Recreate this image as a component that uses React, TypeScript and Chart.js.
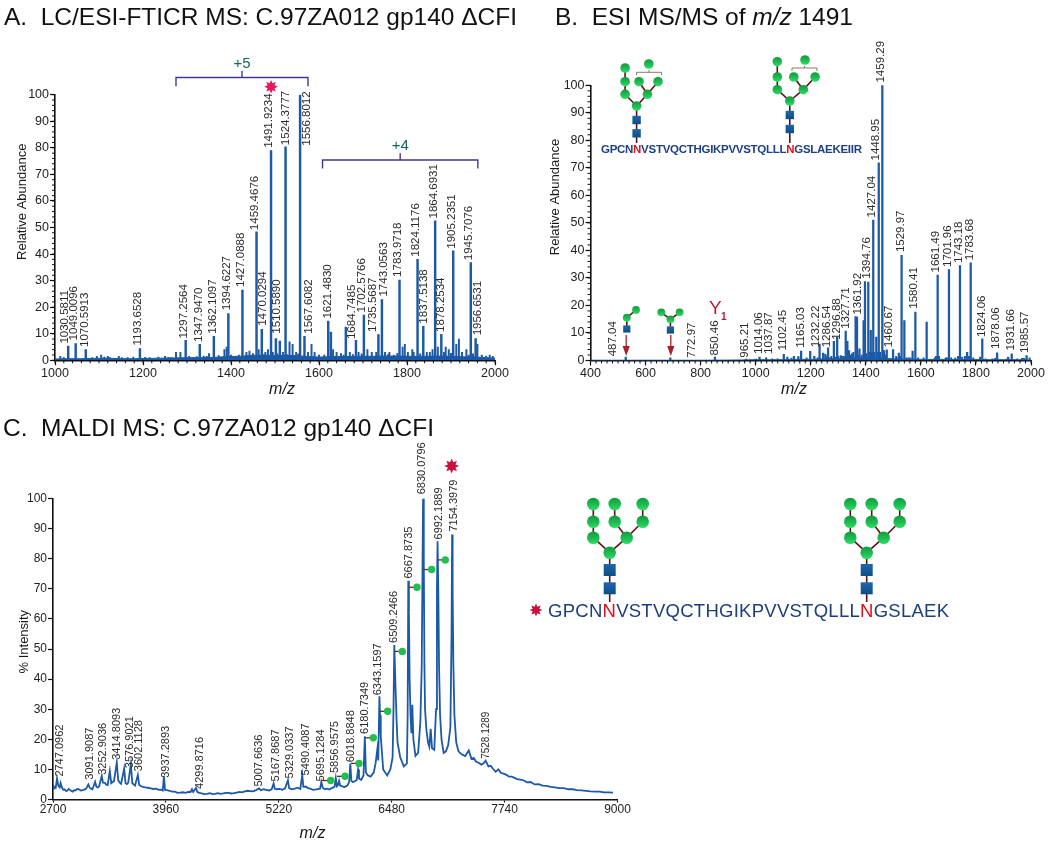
import React, { useEffect, useRef } from "react";
import { Chart, registerables } from "chart.js";

Chart.register(...registerables);

const BLUE = "#1c59a6";
const FONT = "'Liberation Sans', Arial, sans-serif";

// ---------- Panel A ----------
const aPeakMz = [1030, 1047, 1070, 1193, 1297, 1329, 1361, 1394, 1426, 1458, 1470, 1491, 1502, 1511, 1524, 1557, 1567, 1621, 1627, 1661, 1684, 1702, 1735, 1743, 1783, 1824, 1837, 1864, 1878, 1905, 1945, 1956];
const aPeakInt = [5.4, 6.3, 4, 4.4, 7.5, 6, 9, 17.6, 26.4, 48.4, 11.7, 79, 8.2, 7.2, 80.4, 100, 9, 14.8, 10.6, 12.5, 7.5, 17, 9.7, 22.9, 30.2, 38, 12.8, 52.5, 9.8, 41.2, 36.8, 8.2];
const aNoiseMz = [1012, 1020, 1085, 1095, 1105, 1112, 1120, 1125, 1145, 1152, 1165, 1178, 1205, 1215, 1235, 1250, 1258, 1265, 1275, 1285, 1305, 1315, 1322, 1338, 1345, 1350, 1372, 1385, 1390, 1400, 1410, 1418, 1435, 1442, 1450, 1463, 1475, 1478, 1484, 1495, 1505, 1518, 1528, 1533, 1540, 1548, 1553, 1575, 1583, 1590, 1600, 1612, 1632, 1640, 1650, 1656, 1670, 1677, 1690, 1697, 1710, 1720, 1730, 1750, 1757, 1760, 1770, 1778, 1790, 1795, 1802, 1812, 1815, 1830, 1845, 1852, 1858, 1870, 1884, 1888, 1895, 1900, 1912, 1918, 1925, 1935, 1940, 1950, 1960, 1970, 1980, 1988, 1995];
const aNoiseInt = [1.5, 1, 1, 1.5, 2, 1.2, 1.5, 1, 1.5, 1, 1, 1.2, 1.1, 1, 1.2, 1.5, 1.1, 1, 3, 3, 1.5, 1, 1.4, 1.6, 1.5, 2.5, 1.8, 4, 5, 2, 1.5, 2, 3, 3.5, 2.5, 4, 2.2, 3, 4, 3, 2.5, 3, 2.2, 7, 6, 3, 2.4, 3, 6, 3, 2, 2, 4, 3, 2.5, 2, 3, 2.2, 3, 2.4, 4, 3, 3, 3, 2.2, 3, 2, 2.6, 5, 6, 3, 4, 3, 2.4, 3, 3, 4, 5, 3, 5, 4, 2.6, 6, 8, 3, 4, 2, 2.4, 6, 2, 1.6, 2, 1.5];
const aFloorMz = [1000, 1030, 1060, 1090, 1120, 1150, 1180, 1210, 1240, 1270, 1300, 1330, 1360, 1390, 1420, 1450, 1480, 1510, 1540, 1570, 1600, 1630, 1660, 1690, 1720, 1750, 1780, 1810, 1840, 1870, 1900, 1930, 1960, 2000];
const aFloorInt = [0.5, 0.6, 0.6, 0.7, 0.8, 0.6, 0.6, 0.7, 0.8, 0.9, 1, 1, 1.1, 1.4, 1.5, 1.9, 1.9, 1.8, 1.8, 1.5, 1.2, 1.4, 1.4, 1.5, 1.5, 1.6, 1.6, 1.5, 1.5, 1.6, 1.5, 1.3, 1.2, 0.8];
const aLabelText = ["1030.5811", "1049.0096", "1070.5913", "1193.6528", "1297.2564", "1347.9470", "1362.1097", "1394.6227", "1427.0888", "1459.4676", "1470.0294", "1491.9234", "1510.5890", "1524.3777", "1556.8012", "1567.6082", "1621.4830", "1684.7485", "1702.5766", "1735.5687", "1743.0563", "1783.9718", "1824.1176", "1837.5138", "1864.6931", "1878.2534", "1905.2351", "1945.7076", "1956.6531"];
const aLabelMz = [1023, 1043, 1068, 1189, 1292, 1328, 1358, 1390, 1422, 1455, 1473, 1486, 1505, 1524, 1572, 1576, 1620, 1674, 1697, 1723, 1748, 1780, 1820, 1839, 1862, 1877, 1901, 1941, 1961];
const aLabelVal = [6.3, 7.5, 5, 5.6, 8.2, 6.9, 10, 18.8, 27.6, 49, 13, 80, 10, 81, 80.8, 10, 15.7, 8, 18, 10.7, 24, 31.4, 39, 13.8, 53.4, 10.7, 42, 37.7, 9.4];

// ---------- Panel B ----------
const bPeakMz = [528, 690, 852, 1014, 1038, 1102, 1115, 1139, 1155, 1165, 1198, 1213, 1232, 1245, 1253, 1263, 1284, 1296, 1309, 1327, 1333, 1339, 1363, 1368, 1377, 1392, 1397, 1409, 1418, 1427, 1438, 1447, 1460, 1466, 1476, 1499, 1520, 1530, 1540, 1570, 1580, 1621, 1661, 1702, 1742, 1768, 1781, 1823, 1877, 1917, 1930, 1968, 1984];
const bPeakInt = [1.2, 1, 1.2, 1.2, 1, 2.2, 1.2, 1.5, 1.4, 3.4, 3.3, 1.5, 6, 2.7, 2.2, 4.6, 7, 8.5, 1.8, 10.7, 7, 3.6, 16, 15.8, 4.2, 14.5, 28.7, 28.5, 11, 51, 8.5, 71.8, 100, 3.6, 3.9, 4, 2.7, 38.2, 14.5, 3.4, 17.6, 14, 31, 33, 34.5, 3, 35.5, 7.9, 2.8, 1.2, 2.4, 0.8, 1.8];
const bNoiseMz = [965, 1000, 1060, 1080, 1130, 1185, 1225, 1255, 1270, 1275, 1290, 1300, 1315, 1320, 1345, 1350, 1355, 1372, 1385, 1402, 1412, 1422, 1430, 1442, 1452, 1470, 1510, 1515, 1525, 1548, 1555, 1562, 1590, 1610, 1650, 1655, 1666, 1690, 1695, 1710, 1725, 1735, 1750, 1760, 1775, 1790, 1815, 1835, 1860, 1870, 1910, 1950, 1975, 1995];
const bNoiseInt = [0.5, 0.5, 0.6, 0.6, 0.9, 1, 1, 1.5, 1, 1.5, 1.2, 1.5, 1.5, 1.5, 2, 2.5, 3, 2, 2, 2.5, 3, 3, 3, 3, 3, 2, 1.5, 1, 1.5, 1, 1, 1, 1, 1, 1, 1.5, 1.5, 1, 1, 1, 1, 1.5, 1.2, 1.5, 1.5, 1, 1.2, 0.6, 0.6, 0.8, 0.5, 0.6, 0.8, 1];
const bFloorMz = [400, 500, 600, 700, 800, 900, 950, 1000, 1050, 1100, 1150, 1200, 1250, 1300, 1350, 1400, 1450, 1500, 1550, 1600, 1650, 1700, 1750, 1800, 1850, 1900, 1950, 2000];
const bFloorInt = [0.1, 0.1, 0.1, 0.1, 0.1, 0.15, 0.2, 0.3, 0.3, 0.3, 0.4, 0.4, 0.6, 0.7, 0.9, 0.9, 0.8, 0.6, 0.5, 0.4, 0.4, 0.4, 0.4, 0.4, 0.3, 0.3, 0.3, 0.2];
const bLabelText = ["487.04", "772.97", "850.46", "965.21", "1014.06", "1037.87", "1102.45", "1165.03", "1232.22", "1286.54", "1296.88", "1327.71", "1361.92", "1394.76", "1427.04", "1448.95", "1459.29", "1460.67", "1529.97", "1580.41", "1661.49", "1701.96", "1743.18", "1783.68", "1824.06", "1878.06", "1931.66", "1985.57"];
const bLabelMz = [482, 768, 852, 959, 1012, 1047, 1097, 1164, 1220, 1257, 1293, 1327, 1370, 1403, 1422, 1435, 1454, 1483, 1526, 1575, 1656, 1697, 1739, 1778, 1820, 1874, 1925, 1978];
const bLabelVal = [1.5, 1, 1.8, 1, 2.4, 2.4, 3.6, 4.6, 4.8, 4.8, 7.5, 11.5, 16.7, 29.7, 52, 72.7, 101, 4.8, 39.4, 18.8, 32, 34, 35.4, 36.4, 8.5, 4.2, 3.6, 2.7];

// ---------- Panel C ----------
const cMz = [2700, 2708, 2715, 2730, 2745, 2760, 2775, 2785, 2800, 2815, 2830, 2845, 2860, 2875, 2890, 2905, 2920, 2935, 2950, 2970, 2990, 3010, 3030, 3050, 3070, 3095, 3110, 3125, 3140, 3170, 3185, 3200, 3215, 3244, 3258, 3280, 3295, 3310, 3334, 3350, 3365, 3380, 3412, 3428, 3445, 3460, 3494, 3510, 3525, 3540, 3569, 3585, 3600, 3615, 3647, 3662, 3680, 3700, 3730, 3760, 3790, 3820, 3850, 3880, 3905, 3925, 3938, 3950, 3975, 4000, 4030, 4060, 4090, 4120, 4150, 4180, 4210, 4235, 4251, 4265, 4296, 4310, 4335, 4360, 4390, 4420, 4450, 4480, 4510, 4540, 4570, 4600, 4630, 4660, 4690, 4720, 4750, 4780, 4810, 4840, 4870, 4900, 4930, 4960, 4998, 5020, 5050, 5080, 5110, 5140, 5162, 5175, 5200, 5230, 5260, 5290, 5322, 5335, 5365, 5400, 5430, 5460, 5482, 5494, 5520, 5545, 5570, 5605, 5640, 5680, 5695, 5710, 5735, 5760, 5785, 5810, 5842, 5856, 5868, 5880, 5893, 5905, 5930, 5950, 5985, 6005, 6018, 6030, 6045, 6060, 6090, 6105, 6115, 6140, 6165, 6180, 6192, 6215, 6245, 6280, 6300, 6320, 6330, 6343, 6350, 6358, 6385, 6430, 6465, 6490, 6500, 6509, 6522, 6535, 6545, 6575, 6615, 6650, 6658, 6665, 6672, 6680, 6690, 6700, 6710, 6722, 6745, 6775, 6800, 6815, 6830, 6838, 6845, 6852, 6868, 6885, 6900, 6915, 6930, 6955, 6975, 6985, 6992, 7000, 7008, 7020, 7036, 7060, 7085, 7110, 7135, 7148, 7154, 7160, 7168, 7180, 7200, 7225, 7260, 7300, 7340, 7370, 7395, 7420, 7450, 7480, 7505, 7528, 7560, 7585, 7610, 7640, 7670, 7700, 7730, 7760, 7790, 7820, 7850, 7880, 7915, 7950, 7990, 8030, 8075, 8120, 8165, 8210, 8255, 8300, 8350, 8400, 8450, 8500, 8550, 8600, 8650, 8700, 8750, 8800, 8850, 8900, 8950, 9000];
const cInt = [3.5, 4.4, 4, 3.8, 7, 4.5, 4, 5.5, 4, 3.2, 3.4, 2.8, 2.9, 3.5, 3.2, 2.8, 2.6, 3.1, 3, 3.5, 3.4, 3, 3.1, 3.3, 3.6, 5, 3.9, 3.6, 3.4, 5.9, 4.2, 4, 4.4, 7.8, 5.6, 5.5, 4.9, 4.8, 9.5, 5.4, 5.8, 6, 12.3, 6.4, 5.6, 5.2, 10.3, 5.4, 5.1, 5.6, 11.8, 5.4, 5, 4.6, 8.1, 4.8, 4.5, 4.2, 4, 3.9, 3.7, 3.5, 3.6, 3.2, 3.3, 3, 7.8, 3.2, 3.1, 2.9, 2.6, 2.6, 2.2, 2.3, 2.4, 2.2, 2.5, 2.5, 3.4, 2.5, 3.9, 2.5, 2.2, 2, 1.8, 1.9, 2.1, 1.8, 1.9, 2.1, 1.9, 2, 2.2, 2.2, 2, 2.1, 2.3, 2.5, 2.4, 2.7, 2.9, 2.8, 2.7, 3, 3.7, 3.1, 3.4, 3.2, 3, 3.4, 5.3, 3.6, 3.4, 3.5, 3.2, 3.7, 6.4, 3.8, 3.4, 3.6, 3.9, 3.5, 8.1, 4.2, 4.3, 3.8, 3.6, 3.2, 3.4, 3.6, 5.8, 3.9, 3.4, 3.6, 3.3, 3.8, 4.2, 7.1, 4.4, 4.8, 6.2, 4.6, 4.4, 4.1, 4.6, 5.8, 11.9, 6.2, 5.8, 5.9, 6.5, 10, 7, 6.5, 8, 21, 9, 8, 7.6, 9, 12, 16.8, 13, 34.3, 28, 21, 10, 8, 10, 14, 30, 51.3, 38, 26, 19, 14, 11, 12, 28, 72.7, 62, 40, 28, 22, 31.5, 20, 14.5, 15.5, 26, 44, 100, 80, 45, 30, 23, 19, 17.5, 23.5, 17, 16.5, 30, 70, 85.8, 70, 45, 28, 20, 15.5, 16, 18, 24, 55, 88, 70, 45, 28, 19, 16, 15, 14.4, 16.3, 13.5, 13.8, 12.6, 12.2, 11.6, 12, 12.9, 11, 11.2, 10.2, 9.2, 10, 8.8, 8.6, 8.2, 7.6, 7.6, 7.2, 6.8, 6.6, 6.4, 5.7, 5.8, 5, 5.1, 4.6, 4.5, 4.2, 4, 3.8, 3.8, 3.4, 3.4, 3.1, 3, 2.9, 2.7, 2.6, 2.6, 2.4, 2.4, 2.3];
const cDotMz = [5799, 5959, 6115, 6275, 6435, 6598, 6762, 6926, 7078];
const cDotInt = [6.3, 7.7, 12, 20.5, 29.3, 49.2, 70.5, 76.4, 79.6];
const cLabelText = ["2747.0962", "3091.9087", "3252.9036", "3414.8093", "3576.9021", "3602.1128", "3937.2893", "4299.8716", "5007.6636", "5167.8687", "5329.0337", "5490.4087", "5695.1284", "5856.9575", "6018.8848", "6180.7349", "6343.1597", "6509.2466", "6667.8735", "6830.0796", "6992.1889", "7154.3979"];
const cLabelMz = [2773, 3116, 3257, 3417, 3554, 3655, 3965, 4340, 5002, 5185, 5345, 5518, 5688, 5847, 6021, 6180, 6327, 6500, 6670, 6816, 7012, 7172];
const cLabelVal = [7.6, 6.6, 8.2, 13.2, 10.4, 9.4, 7.2, 3.5, 4.3, 6, 7, 8, 6, 8.8, 12.4, 21.8, 34.6, 52, 73.4, 101.4, 86.4, 89];
const cSmallLabelText = ["7528.1289"];
const cSmallLabelMz = [7538];
const cSmallLabelVal = [13.5];

// ---------- helpers ----------
const pairs = (xs: number[], ys: number[]) => xs.map((x, i) => ({ x, y: ys[i] }));

function starPath(ctx: CanvasRenderingContext2D, cx: number, cy: number, r: number) {
  ctx.beginPath();
  for (let i = 0; i < 16; i++) {
    const a = (i * Math.PI) / 8;
    const rr = i % 2 === 0 ? r : r * 0.55;
    ctx.lineTo(cx + rr * Math.sin(a), cy - rr * Math.cos(a));
  }
  ctx.closePath();
}

function overlay(cfg: any) {
  return {
    id: "overlay",
    afterDraw(chart: any) {
      const { ctx, scales } = chart;
      const x = scales.x, y = scales.y;
      ctx.save();
      if (cfg.minorX) {
        ctx.strokeStyle = "#111";
        ctx.lineWidth = 1;
        for (let v = x.min; v <= x.max; v += cfg.minorX) {
          const p = x.getPixelForValue(v);
          ctx.beginPath(); ctx.moveTo(p, y.bottom); ctx.lineTo(p, y.bottom + 3); ctx.stroke();
        }
      }
      if (cfg.minorY) {
        ctx.strokeStyle = "#111";
        ctx.lineWidth = 1;
        for (let v = 0; v <= 100; v += cfg.minorY) {
          const p = y.getPixelForValue(v);
          ctx.beginPath(); ctx.moveTo(x.left, p); ctx.lineTo(x.left - 3, p); ctx.stroke();
        }
      }
      const drawLabels = (txt: string[], mz: number[], val: number[], size: number) => {
        ctx.font = `${size}px ${FONT}`;
        ctx.fillStyle = "#2b2b2b";
        ctx.textAlign = "left";
        ctx.textBaseline = "middle";
        txt.forEach((t, i) => {
          ctx.save();
          ctx.translate(x.getPixelForValue(mz[i]), y.getPixelForValue(val[i]));
          ctx.rotate(-Math.PI / 2);
          ctx.fillText(t, 0, 0);
          ctx.restore();
        });
      };
      drawLabels(cfg.text, cfg.mz, cfg.val, cfg.size);
      if (cfg.text2) drawLabels(cfg.text2, cfg.mz2, cfg.val2, cfg.size2);
      (cfg.brackets || []).forEach((b: any) => {
        const x0 = x.getPixelForValue(b.from), x1 = x.getPixelForValue(b.to);
        const yy = y.getPixelForValue(b.y), yf = y.getPixelForValue(b.foot), ys = y.getPixelForValue(b.stem);
        const xm = (x0 + x1) / 2;
        ctx.strokeStyle = "#3f3a8f";
        ctx.lineWidth = 1.4;
        ctx.beginPath();
        ctx.moveTo(x0, yf); ctx.lineTo(x0, yy); ctx.lineTo(x1, yy); ctx.lineTo(x1, yf);
        ctx.moveTo(xm, yy); ctx.lineTo(xm, ys);
        ctx.stroke();
        ctx.fillStyle = "#11665a";
        ctx.font = `15px ${FONT}`;
        ctx.textAlign = "center";
        ctx.textBaseline = "middle";
        ctx.fillText(b.text, xm, ys - 7);
      });
      (cfg.stars || []).forEach((s: any) => {
        ctx.fillStyle = s.color;
        starPath(ctx, x.getPixelForValue(s.mz), y.getPixelForValue(s.val), s.r);
        ctx.fill();
      });
      ctx.fillStyle = "#1a1a1a";
      ctx.textAlign = "center";
      ctx.textBaseline = "middle";
      ctx.font = `${cfg.ySize}px ${FONT}`;
      ctx.save();
      ctx.translate(cfg.yTitleX, cfg.yTitleY);
      ctx.rotate(-Math.PI / 2);
      ctx.fillText(cfg.yTitle, 0, 0);
      ctx.restore();
      ctx.font = `italic 16px ${FONT}`;
      ctx.fillText("m/z", cfg.xTitleX, cfg.xTitleY);
      ctx.restore();
    },
  };
}

function dotStems() {
  return {
    id: "dotStems",
    beforeDatasetDraw(chart: any, args: any) {
      if (args.index !== 1) return;
      const { ctx } = chart;
      ctx.save();
      ctx.strokeStyle = "#6b2a1a";
      ctx.lineWidth = 1.3;
      chart.getDatasetMeta(1).data.forEach((p: any) => {
        ctx.beginPath(); ctx.moveTo(p.x, p.y); ctx.lineTo(p.x - 8, p.y); ctx.stroke();
      });
      ctx.restore();
    },
  };
}

function axes(opts: any) {
  return {
    x: {
      type: "linear",
      min: opts.xMin,
      max: opts.xMax,
      offset: false,
      afterFit: (s: any) => { s.height = opts.xH; },
      grid: { display: true, drawOnChartArea: false, drawTicks: true, tickLength: opts.xTickLen ?? 5, tickColor: "#111", tickWidth: 1.2, offset: false },
      border: { color: "#111", width: 1.6 },
      ticks: { stepSize: opts.xStep, autoSkip: false, maxRotation: 0, minRotation: 0, padding: opts.xPad ?? 1, color: "#222", font: { family: FONT, size: opts.tick }, callback: (v: any) => String(v) },
    },
    y: {
      min: 0,
      max: 100,
      afterFit: (s: any) => { s.width = opts.yW; },
      grid: { display: true, drawOnChartArea: false, drawTicks: true, tickLength: 5, tickColor: "#111", tickWidth: 1.2 },
      border: { color: "#111", width: 1.6 },
      ticks: { stepSize: 10, autoSkip: false, padding: 1, color: "#222", font: { family: FONT, size: opts.tick }, callback: (v: any) => String(v) },
    },
  };
}

function useSpectrum(ref: any, make: () => any) {
  useEffect(() => {
    const c = new Chart(ref.current, make());
    return () => c.destroy();
  }, []);
}

const commonOptions = {
  animation: false,
  responsive: false,
  plugins: { legend: { display: false }, tooltip: { enabled: false }, title: { display: false } },
  events: [],
};

function stickConfig(p: any) {
  return {
    type: "bar",
    data: {
      datasets: [
        { type: "line", data: pairs(p.floorMz, p.floorInt), borderColor: BLUE, backgroundColor: BLUE, borderWidth: 1, pointRadius: 0, fill: "origin", order: 3 },
        { type: "bar", data: pairs(p.noiseMz, p.noiseInt), backgroundColor: BLUE, barThickness: 1.3, grouped: false, order: 2 },
        { type: "bar", data: pairs(p.peakMz, p.peakInt), backgroundColor: BLUE, barThickness: p.bar, grouped: false, order: 1 },
      ],
    },
    options: {
      ...commonOptions,
      layout: { padding: p.padding },
      scales: axes(p.axes),
    },
    plugins: [overlay(p.overlay)],
  };
}

// ---------- page decorations ----------
const GREEN = "url(#sph)";
function Glycan({ nodes, edges, squares, stem, r, s }: any) {
  return (
    <g>
      {edges.map((e: number[], i: number) => (
        <line key={i} x1={nodes[e[0]][0]} y1={nodes[e[0]][1]} x2={nodes[e[1]][0]} y2={nodes[e[1]][1]} stroke="#5a1212" strokeWidth={1.6} />
      ))}
      <line x1={stem[0]} y1={stem[1]} x2={stem[0]} y2={stem[2]} stroke="#5a1212" strokeWidth={1.6} />
      {nodes.map((n: number[], i: number) => <circle key={i} cx={n[0]} cy={n[1]} r={r} fill={GREEN} />)}
      {squares.map((q: number[], i: number) => <rect key={i} x={q[0] - s} y={q[1] - s} width={2 * s} height={2 * s} fill="url(#sq)" />)}
    </g>
  );
}

function shift(pts: number[][], dx: number, dy = 0) { return pts.map((p) => [p[0] + dx, p[1] + dy]); }

const cGlyNodes = [[593.3, 504], [614.7, 504], [642.7, 504], [593.3, 521.7], [614.7, 521.7], [642.7, 521.7], [593.3, 537.7], [626.7, 537.7], [609.7, 552.7]];
const cGlyEdges = [[0, 3], [3, 6], [6, 8], [1, 4], [4, 7], [2, 5], [5, 7], [7, 8]];
const cGlySq = [[609.7, 570], [609.7, 588.3]];
const bGlyLNodes = [[625.1, 68], [648.8, 64], [625.1, 81.7], [639, 81.7], [658, 81.7], [625.1, 94.3], [647.4, 94.3], [636.6, 106]];
const bGlyRNodes = [[777.3, 61.7], [805, 60], [777.3, 77], [793.8, 77], [815.1, 77], [777.3, 89.7], [803.3, 89.7], [789.8, 101]];
const bGlyEdges = [[0, 2], [2, 5], [5, 7], [3, 6], [4, 6], [6, 7]];

function starPoints(cx: number, cy: number, r: number) {
  const out: string[] = [];
  for (let i = 0; i < 16; i++) {
    const a = (i * Math.PI) / 8;
    const rr = i % 2 === 0 ? r : r * 0.55;
    out.push(`${cx + rr * Math.sin(a)},${cy - rr * Math.cos(a)}`);
  }
  return out.join(" ");
}

function Decor() {
  return (
    <svg width={1050} height={849} style={{ position: "absolute", left: 0, top: 0, pointerEvents: "none" }} fontFamily={FONT}>
      <defs>
        <linearGradient id="sph" x1="0" y1="0" x2="0" y2="1">
          <stop offset="0" stopColor="#0f9a3e" />
          <stop offset="0.6" stopColor="#1fc053" />
          <stop offset="1" stopColor="#35dc6c" />
        </linearGradient>
        <linearGradient id="sq" x1="0" y1="0" x2="0" y2="1">
          <stop offset="0" stopColor="#1d66b0" />
          <stop offset="1" stopColor="#0e4d7f" />
        </linearGradient>
      </defs>
      <text x={4} y={25} fontSize={24.5} fill="#111" textLength={513} xmlSpace="preserve">A.  LC/ESI-FTICR MS: C.97ZA012 gp140 ΔCFI</text>
      <text x={555} y={25} fontSize={24.5} fill="#111" textLength={298} xmlSpace="preserve">B.  ESI MS/MS of <tspan fontStyle="italic">m/z</tspan> 1491</text>
      <text x={3} y={436} fontSize={24.5} fill="#111" textLength={431} xmlSpace="preserve">C.  MALDI MS: C.97ZA012 gp140 ΔCFI</text>

      <Glycan nodes={bGlyLNodes} edges={bGlyEdges} squares={[[636.6, 120], [636.6, 133.3]]} stem={[636.6, 106, 143]} r={4.8} s={4.2} />
      <Glycan nodes={bGlyRNodes} edges={bGlyEdges} squares={[[789.8, 115], [789.8, 129]]} stem={[789.8, 101, 143]} r={4.8} s={4.2} />
      <path d="M636.5 75V72.3H661.5V75M649 72.3V70" fill="none" stroke="#8a7a68" strokeWidth={1} />
      <path d="M792 71V68H817V71M804.5 68V66" fill="none" stroke="#8a7a68" strokeWidth={1} />
      <text x={601} y={152.5} fontSize={11.5} fontWeight="bold" fill="#1c3f88" textLength={261}>
        GPCN<tspan fill="#e0101a">N</tspan>VSTVQCTHGIKPVVSTQLLL<tspan fill="#e0101a">N</tspan>GSLAEKEIIR
      </text>

      <Glycan nodes={[[636, 310], [626.8, 317.7]]} edges={[[0, 1]]} squares={[[626.8, 329]]} stem={[626.8, 317.7, 329]} r={3.9} s={3.6} />
      <Glycan nodes={[[661.3, 312.3], [679.6, 312.3], [670.4, 319.3]]} edges={[[0, 2], [1, 2]]} squares={[[670.4, 330]]} stem={[670.4, 319.3, 330]} r={3.9} s={3.6} />
      <path d="M626.2 335V348" stroke="#a5202e" strokeWidth={1.3} />
      <path d="M622.6 346H629.8L626.2 356Z" fill="#a5202e" />
      <path d="M670.8 335V348" stroke="#a5202e" strokeWidth={1.3} />
      <path d="M667.2 346H674.4L670.8 356Z" fill="#a5202e" />
      <text x={709} y={314} fontSize={19} fill="#b5213c">Y</text>
      <text x={721} y={320} fontSize={10} fill="#b5213c" fontWeight="bold">1</text>

      <Glycan nodes={cGlyNodes} edges={cGlyEdges} squares={cGlySq} stem={[609.7, 552.7, 602]} r={6.3} s={6} />
      <Glycan nodes={shift(cGlyNodes, 257)} edges={cGlyEdges} squares={shift(cGlySq, 257)} stem={[866.7, 552.7, 602]} r={6.3} s={6} />
      <polygon points={starPoints(536, 610, 6.5)} fill="#c8103c" />
      <text x={548} y={616.5} fontSize={18.5} fill="#1c3f7c" textLength={401}>
        GPCN<tspan fill="#e0101a">N</tspan>VSTVQCTHGIKPVVSTQLLL<tspan fill="#e0101a">N</tspan>GSLAEK
      </text>
    </svg>
  );
}

export default function App() {
  const aRef = useRef<HTMLCanvasElement>(null);
  const bRef = useRef<HTMLCanvasElement>(null);
  const cRef = useRef<HTMLCanvasElement>(null);

  useSpectrum(aRef, () => stickConfig({
    floorMz: aFloorMz, floorInt: aFloorInt, noiseMz: aNoiseMz, noiseInt: aNoiseInt, peakMz: aPeakMz, peakInt: aPeakInt, bar: 1.8,
    padding: { left: 0, top: 94.7, right: 30, bottom: 0 },
    axes: { xMin: 1000, xMax: 2000, xStep: 200, xH: 44.7, yW: 55, tick: 12.5 },
    overlay: {
      minorX: 20, minorY: 2, text: aLabelText, mz: aLabelMz, val: aLabelVal, size: 11.5,
      brackets: [
        { from: 1275, to: 1575, y: 106.5, foot: 103.2, stem: 109, text: "+5" },
        { from: 1608, to: 1961, y: 75.4, foot: 72.2, stem: 78, text: "+4" },
      ],
      stars: [{ mz: 1491, val: 103, color: "#ea1560", r: 6.8 }],
      yTitle: "Relative Abundance", yTitleX: 22.7, yTitleY: 201.7, ySize: 13,
      xTitleX: 282, xTitleY: 390,
    },
  }));

  useSpectrum(bRef, () => stickConfig({
    floorMz: bFloorMz, floorInt: bFloorInt, noiseMz: bNoiseMz, noiseInt: bNoiseInt, peakMz: bPeakMz, peakInt: bPeakInt, bar: 1.6,
    padding: { left: 0, top: 85.3, right: 19, bottom: 0 },
    axes: { xMin: 400, xMax: 2000, xStep: 200, xH: 44.5, yW: 65.5, tick: 12.5 },
    overlay: {
      minorX: 20, minorY: 2, text: bLabelText, mz: bLabelMz, val: bLabelVal, size: 11.5,
      yTitle: "Relative Abundance", yTitleX: 30.5, yTitleY: 197, ySize: 13,
      xTitleX: 269, xTitleY: 390,
    },
  }));

  useSpectrum(cRef, () => ({
    type: "line",
    data: {
      datasets: [
        { data: pairs(cMz, cInt), borderColor: BLUE, borderWidth: 1.8, pointRadius: 0, tension: 0, order: 2 },
        { data: pairs(cDotMz, cDotInt), showLine: false, pointRadius: 3.7, pointBorderWidth: 0, pointBackgroundColor: "#1fc04f", order: 1 },
      ],
    },
    options: {
      ...commonOptions,
      layout: { padding: { left: 0, top: 78.5, right: 22.5, bottom: 0 } },
      scales: axes({ xMin: 2700, xMax: 9000, xStep: 1260, xH: 49.5, yW: 53, tick: 12, xTickLen: 3, xPad: 0 }),
    },
    plugins: [dotStems(), overlay({
      text: cLabelText, mz: cLabelMz, val: cLabelVal, size: 11,
      text2: cSmallLabelText, mz2: cSmallLabelMz, val2: cSmallLabelVal, size2: 10,
      stars: [{ mz: 7149, val: 110.8, color: "#c8103c", r: 7.5 }],
      yTitle: "% Intensity", yTitleX: 24.8, yTitleY: 221.7, ySize: 13,
      xTitleX: 312.5, xTitleY: 414,
    })],
  }));

  return (
    <div style={{ position: "absolute", left: 0, top: 0, width: 1050, height: 849, background: "#fff", overflow: "hidden" }}>
      <canvas ref={aRef} width={525} height={405} style={{ position: "absolute", left: 0, top: 0, width: 525, height: 405 }} />
      <canvas ref={bRef} width={525} height={405} style={{ position: "absolute", left: 525, top: 0, width: 525, height: 405 }} />
      <canvas ref={cRef} width={640} height={429} style={{ position: "absolute", left: 0, top: 420, width: 640, height: 429 }} />
      <Decor />
    </div>
  );
}
